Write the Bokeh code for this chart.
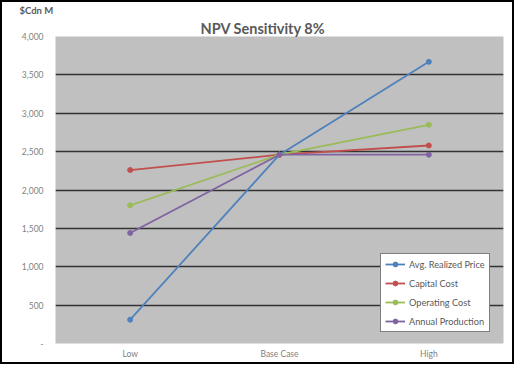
from bokeh.plotting import figure
from bokeh.models import Title, Range1d, FactorRange, CustomJSTickFormatter, FixedTicker
from bokeh.embed import file_html
from bokeh.resources import INLINE

cases = ["Low", "Base Case", "High"]
series_names = ["Avg. Realized Price", "Capital Cost", "Operating Cost", "Annual Production"]
avg_price = [310, 2460, 3670]
capital_cost = [2260, 2460, 2580]
operating_cost = [1800, 2460, 2850]
annual_production = [1440, 2460, 2460]
colors = ["#4F81BD", "#C0504D", "#9BBB59", "#8064A2"]
y_ticks = [0, 500, 1000, 1500, 2000, 2500, 3000, 3500, 4000]

FONT = "Lato"

p = figure(frame_width=448, frame_height=307, x_range=FactorRange(*cases), y_range=Range1d(0, 4000),
           output_backend="svg", toolbar_location=None, title_location=None,
           min_border_left=53, min_border_right=9, min_border_top=34, min_border_bottom=19)
p.background_fill_color = "#C0C0C0"
p.border_fill_color = "white"
p.outline_line_color = None
p.styles = {"border": "2px solid #000"}

main_title = Title(text="NPV Sensitivity 8%", text_font=FONT, text_font_size="14.5px",
                   text_font_style="bold", text_color="#595959", align="left", offset=145,
                   vertical_align="bottom", standoff=0)
unit_title = Title(text="$Cdn M", text_font=FONT, text_font_size="9.5px",
                   text_font_style="bold", text_color="#595959", align="left",
                   offset=-36, vertical_align="top", standoff=0)
p.add_layout(main_title, "above")
p.add_layout(unit_title, "above")

p.xgrid.grid_line_color = None
p.ygrid.grid_line_color = "#333333"
p.ygrid.grid_line_width = 1.6
p.yaxis.ticker = FixedTicker(ticks=y_ticks)
p.yaxis.formatter = CustomJSTickFormatter(code="return tick == 0 ? '-' : tick.toLocaleString('en-US');")

for ax in (p.xaxis, p.yaxis):
    ax.axis_line_color = None
    ax.major_tick_line_color = None
    ax.minor_tick_line_color = None
    ax.major_tick_out = 0
    ax.major_tick_in = 0
    ax.major_label_text_font = FONT
    ax.major_label_text_font_size = "8.5px"
    ax.major_label_text_color = "#7F7F7F"
p.yaxis.major_label_standoff = 12
p.xaxis.major_label_standoff = 5

data = [avg_price, capital_cost, operating_cost, annual_production]
for name, vals, c in zip(series_names, data, colors):
    p.line(cases, vals, line_color=c, line_width=1.8, legend_label=name)
    p.scatter(cases, vals, fill_color=c, line_color=c, size=5, legend_label=name)

lg = p.legend[0]
lg.location = (325, 11)
lg.border_line_color = "black"
lg.border_line_width = 1
lg.background_fill_color = "white"
lg.background_fill_alpha = 1
lg.label_text_font = FONT
lg.label_text_font_size = "9.2px"
lg.label_text_color = "#595959"
lg.glyph_width = 20
lg.glyph_height = 12
lg.spacing = 7
lg.padding = 4
lg.label_standoff = 4

open("out.html", "w").write(file_html(p, INLINE))
